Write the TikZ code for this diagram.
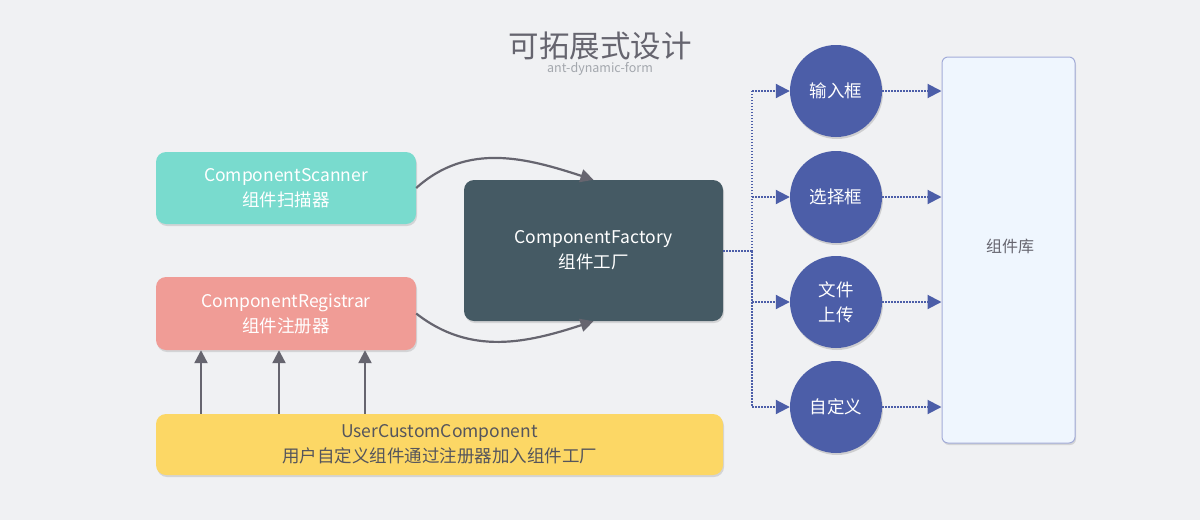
\documentclass[tikz,border=0pt]{standalone}
\usepackage{fontspec}
\setmainfont{Noto Sans CJK SC}
\usetikzlibrary{arrows.meta,shadows,calc}
\definecolor{bg}{HTML}{F0F1F3}
\definecolor{titlec}{HTML}{66656F}
\definecolor{subc}{HTML}{A3A7AD}
\definecolor{teal}{HTML}{79DBCE}
\definecolor{salmon}{HTML}{F09C96}
\definecolor{slate}{HTML}{455A64}
\definecolor{yellowc}{HTML}{FCD765}
\definecolor{indigo}{HTML}{4C5EA8}
\definecolor{libfill}{HTML}{EFF6FE}
\definecolor{libdraw}{HTML}{A3ACD8}
\definecolor{arrc}{HTML}{66656F}
\definecolor{textdark}{HTML}{55555C}
\tikzset{
  box/.style={rounded corners=10pt, minimum width=260pt, align=center, font=\fontsize{17.5}{25}\selectfont,
    drop shadow={opacity=0.25, shadow xshift=1pt, shadow yshift=-2pt}},
  circ/.style={circle, fill=indigo, minimum size=92pt, inner sep=0pt, text=white, align=center,
    font=\fontsize{17.5}{25}\selectfont, drop shadow={opacity=0.3, shadow xshift=1pt, shadow yshift=-2pt}},
  arr/.style={draw=arrc, line width=2.2pt, -{Triangle[length=13pt,width=13pt]}},
  dotl/.style={draw=indigo, line width=2pt, dash pattern=on 1.5pt off 1.5pt},
  dotarr/.style={dotl, -{Triangle[length=14pt,width=14pt,fill=indigo,sep=0pt]}, shorten >=0pt},
}
\begin{document}
\begin{tikzpicture}[x=1pt,y=-1pt]
\fill[bg] (0,0) rectangle (1200,520);
\useasboundingbox (0,0) rectangle (1200,520);
\node[text=titlec, font=\fontsize{30.5}{32}\selectfont] (title) at (600,46) {可拓展式设计};
\node[text=subc, font=\fontsize{12.5}{13}\selectfont] (sub) at (600,69) {ant-dynamic-form};

\node[box, fill=teal, text=white, minimum height=72pt] (scan) at (286,188) {ComponentScanner\\组件扫描器};
\node[box, fill=salmon, text=white, minimum height=73pt] (reg) at (286,313.5) {ComponentRegistrar\\组件注册器};
\node[box, fill=slate, text=white, minimum width=259pt, minimum height=141pt] (fac) at (593.5,250.5) {ComponentFactory\\组件工厂};
\node[box, fill=yellowc, text=textdark, minimum width=567pt, minimum height=61pt] (user) at (439.5,444.5) {UserCustomComponent\\用户自定义组件通过注册器加入组件工厂};

\node[circ] (c1) at (836,91) {输入框};
\node[circ] (c2) at (836,197) {选择框};
\node[circ] (c3) at (836,302) {文件\\上传};
\node[circ] (c4) at (836,407) {自定义};

\node[draw=libdraw, line width=1pt, fill=libfill, rounded corners=6pt, minimum width=133pt, minimum height=386pt,
  drop shadow={opacity=0.25, shadow xshift=1pt, shadow yshift=-2pt}] (lib) at (1008.5,250) {};
\node[text=titlec, font=\fontsize{16}{20}\selectfont] (libt) at (1010,246) {组件库};

% curved arrows
\draw[arr] (scan.east) to[out=42,in=162] (fac.north);
\draw[arr] (reg.east) to[out=-38,in=198] (fac.south);

% vertical arrows
\foreach \x in {201,279,365} {
  \draw[arr] (user.north -| \x,0) -- (reg.south -| \x,0);
}

% dotted connectors
\coordinate (hub) at (752,251);
\draw[dotl] (fac.east |- hub) -- (hub);
\draw[dotl] (hub) -- (hub |- c1);
\draw[dotl] (hub) -- (hub |- c4);
\foreach \c in {c1,c2,c3,c4} {
  \draw[dotarr] (hub |- \c) -- (\c.west);
  \draw[dotarr] (\c.east) -- (lib.west |- \c);
}
\end{tikzpicture}
\end{document}
